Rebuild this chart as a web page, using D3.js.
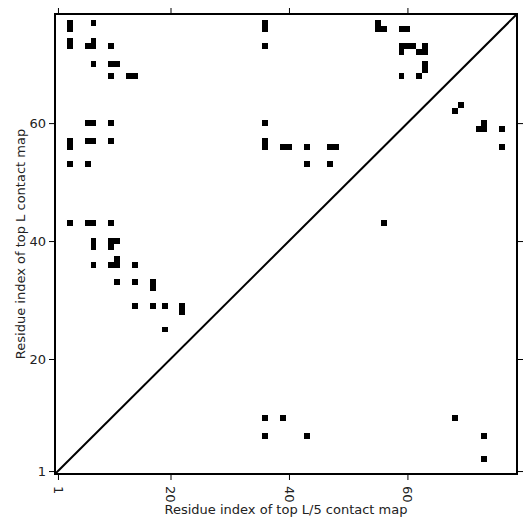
<!DOCTYPE html>
<html>
<head>
<meta charset="utf-8">
<script src="https://cdn.jsdelivr.net/npm/d3@7"></script>
<style>
  body { margin: 0; background: #fff; }
  text { font-family: "DejaVu Sans", sans-serif; fill: #222; }
</style>
</head>
<body>
<div id="chart"></div>
<script>
// sequence length and contact pairs (residue i < residue j)
const seqLength = 78;
const tickValues = [1, 20, 40, 60];

// top L contacts, drawn above the diagonal (x = i, y = j)
const topL = [
  [3, 77], [3, 76], [7, 77],
  [3, 74], [3, 73], [6, 73], [7, 73], [7, 74], [10, 73],
  [7, 70], [10, 70], [11, 70], [10, 68], [13, 68], [14, 68],
  [6, 60], [7, 60], [10, 60], [3, 57], [3, 56], [6, 57], [7, 57], [10, 57],
  [3, 53], [6, 53], [3, 43], [6, 43], [7, 43], [10, 43],
  [7, 40], [7, 39], [10, 40], [11, 40], [10, 39], [7, 36], [11, 37], [10, 36], [11, 36], [14, 36],
  [11, 33], [14, 33], [17, 33], [17, 32], [14, 29], [17, 29], [19, 29], [22, 29], [22, 28], [19, 25],
  [36, 77], [36, 76], [36, 73], [55, 77], [55, 76], [56, 76], [59, 76], [60, 76],
  [59, 73], [60, 73], [61, 73], [63, 73], [59, 72], [62, 72], [63, 72], [63, 70], [63, 69], [59, 68], [62, 68],
  [36, 60], [36, 57], [36, 56], [39, 56], [40, 56], [43, 56], [47, 56], [48, 56], [43, 53], [47, 53]
];

// top L/5 contacts, drawn below the diagonal (x = j, y = i)
const topL5 = [
  [10, 36], [10, 39], [7, 36], [7, 43], [10, 68], [7, 73], [3, 73],
  [62, 68], [63, 69], [59, 72], [59, 73], [60, 73], [59, 76], [56, 76], [43, 56]
];

const W = 531, H = 531;
const margin = { left: 55, right: 517, top: 14, bottom: 474 };

const svg = d3.select('#chart').append('svg')
    .attr('width', W)
    .attr('height', H);

const x = d3.scaleLinear()
  .domain([0.5, seqLength + 0.5])
  .range([margin.left, margin.right]);

const y = d3.scaleLinear()
  .domain([0.5, seqLength + 0.5])
  .range([margin.bottom, margin.top]);

const cells = svg.append('g')
  .attr('fill', '#000')
  .attr('shape-rendering', 'crispEdges');

// snap cell edges to whole pixels so neighbouring cells join without seams
function drawCell (cx, cy) {
  const x0 = Math.round(x(cx - 0.5)), x1 = Math.round(x(cx + 0.5));
  const y0 = Math.round(y(cy + 0.5)), y1 = Math.round(y(cy - 0.5));
  cells.append('rect')
    .attr('x', x0)
    .attr('y', y0)
    .attr('width', x1 - x0)
    .attr('height', y1 - y0);
}

topL.forEach((d) => drawCell(d[0], d[1]));
topL5.forEach((d) => drawCell(d[1], d[0]));

// diagonal
svg.append('line')
  .attr('x1', x(0.5)).attr('y1', y(0.5))
  .attr('x2', x(seqLength + 0.5)).attr('y2', y(seqLength + 0.5))
  .attr('stroke', '#000')
  .attr('stroke-width', 2);

// axes, ticks outward on all four sides
const fmt = (d) => String(d);
const gx = svg.append('g')
  .attr('transform', `translate(0, ${margin.bottom})`)
  .call(d3.axisBottom(x).tickValues(tickValues).tickFormat(fmt).tickSize(6).tickPadding(3));
gx.selectAll('text')
  .attr('transform', 'rotate(90)')
  .attr('text-anchor', 'start')
  .attr('dy', '0.35em')
  .attr('x', 12)
  .attr('y', 0)
  .style('font-size', '13px');

svg.append('g')
  .attr('transform', `translate(0, ${margin.top})`)
  .call(d3.axisTop(x).tickValues(tickValues).tickFormat('').tickSize(6));

const gy = svg.append('g')
  .attr('transform', `translate(${margin.left}, 0)`)
  .call(d3.axisLeft(y).tickValues(tickValues).tickFormat(fmt).tickSize(6).tickPadding(3));
gy.selectAll('text').style('font-size', '13px');

svg.append('g')
  .attr('transform', `translate(${margin.right}, 0)`)
  .call(d3.axisRight(y).tickValues(tickValues).tickFormat('').tickSize(6));

svg.selectAll('.domain').remove();
svg.selectAll('.tick line').attr('stroke', '#000').attr('stroke-width', 1);
svg.selectAll('.tick text').attr('fill', '#222').style('font-family', '"DejaVu Sans", sans-serif');

// frame
svg.append('rect')
  .attr('x', margin.left).attr('y', margin.top)
  .attr('width', margin.right - margin.left).attr('height', margin.bottom - margin.top)
  .attr('fill', 'none')
  .attr('stroke', '#000')
  .attr('stroke-width', 2);

// axis titles
svg.append('text')
  .attr('x', (margin.left + margin.right) / 2)
  .attr('y', 514)
  .attr('text-anchor', 'middle')
  .style('font-size', '13px')
  .text('Residue index of top L/5 contact map');

svg.append('text')
  .attr('transform', `translate(25, ${(margin.top + margin.bottom) / 2}) rotate(-90)`)
  .attr('text-anchor', 'middle')
  .style('font-size', '13px')
  .text('Residue index of top L contact map');
</script>
</body>
</html>
